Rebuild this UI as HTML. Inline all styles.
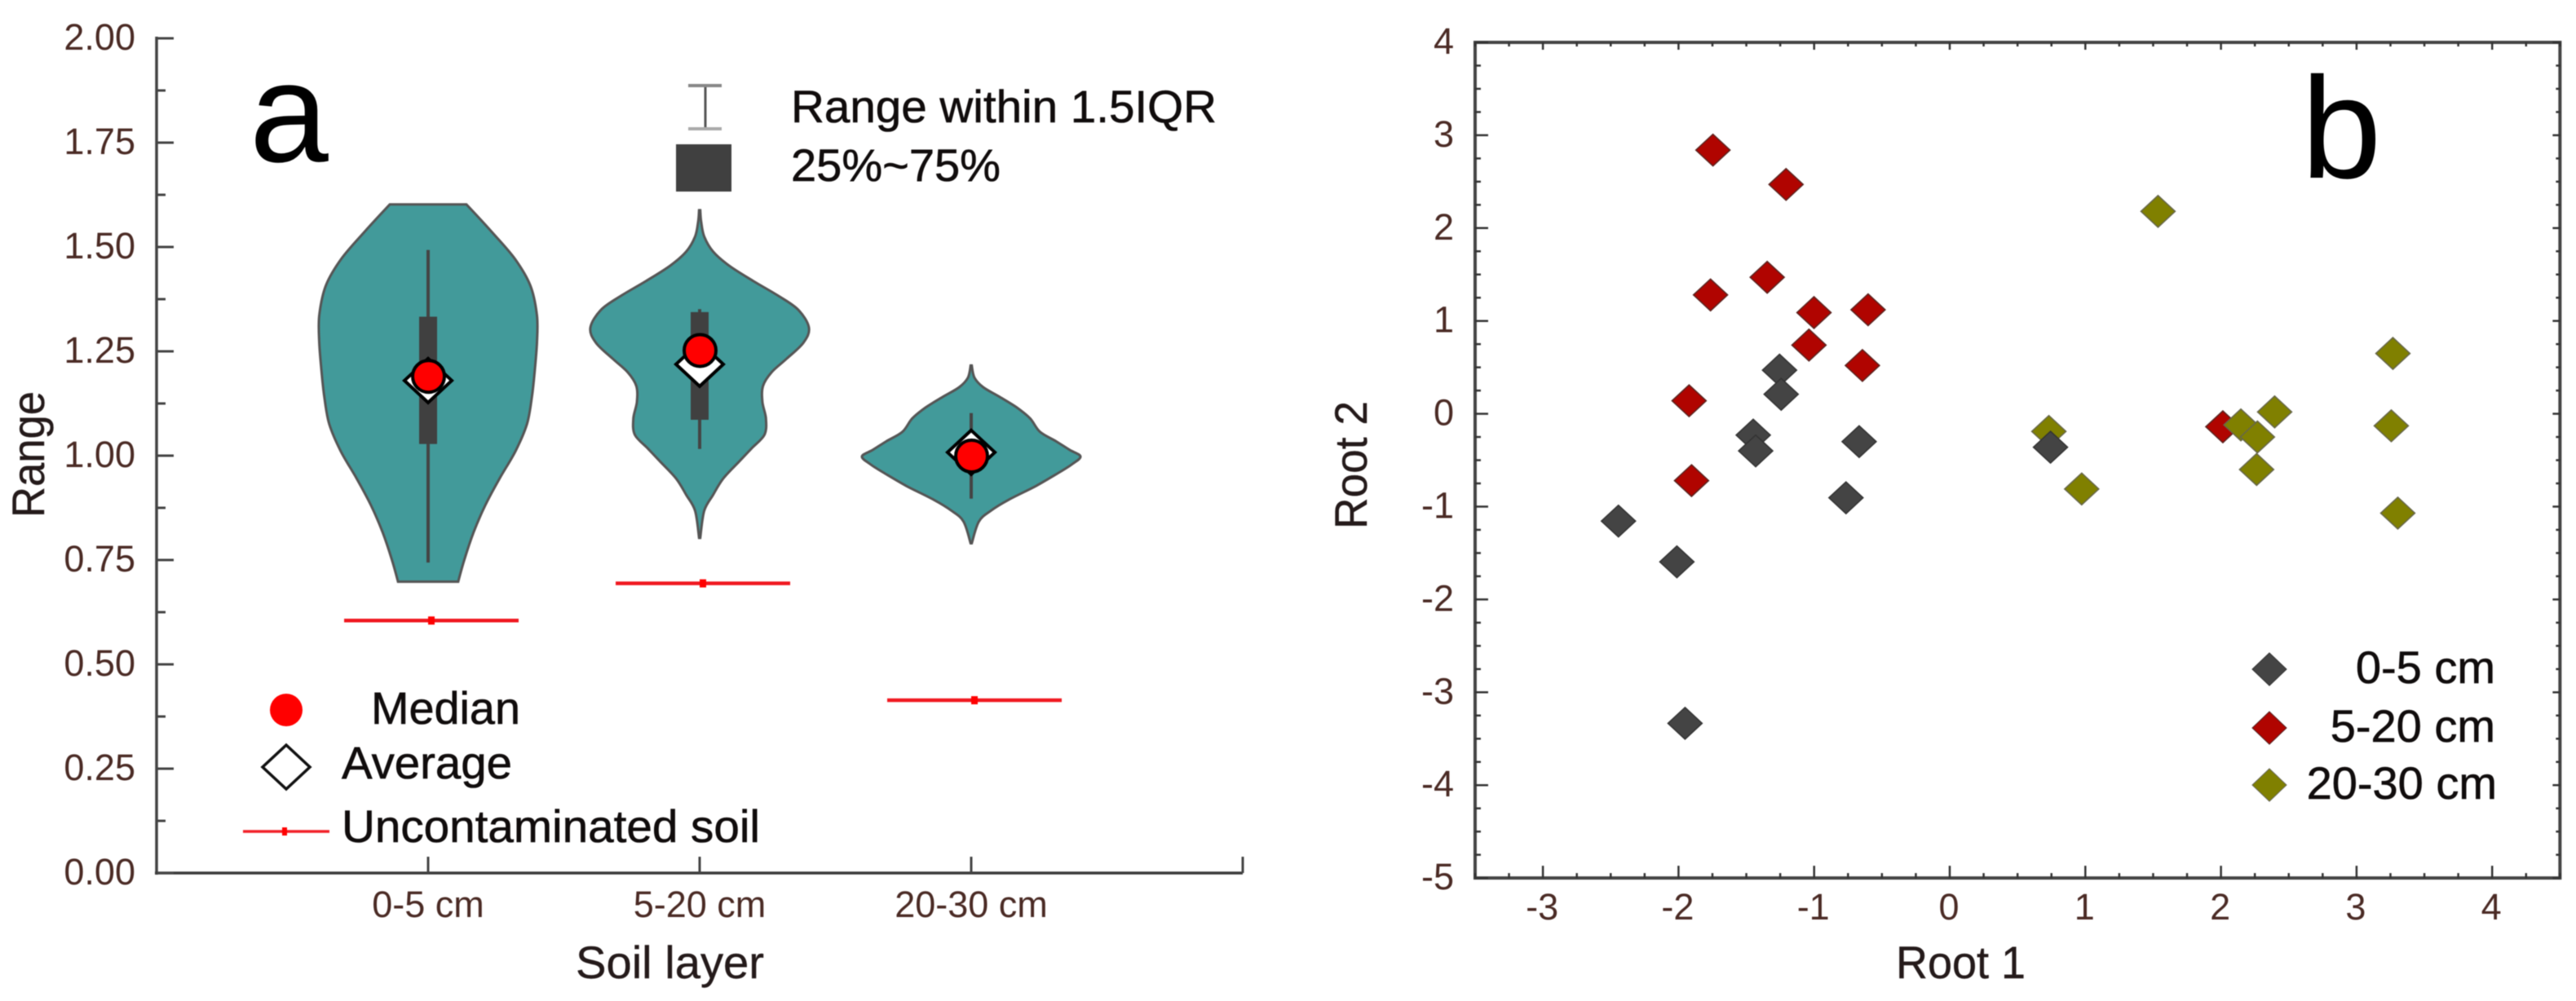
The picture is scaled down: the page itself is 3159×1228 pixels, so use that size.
<!DOCTYPE html>
<html lang="en">
<head>
<meta charset="utf-8">
<title>Soil layer range violin plot and discriminant scatter plot</title>
<style>
html,body{margin:0;padding:0;background:#fff;width:3159px;height:1228px;overflow:hidden}
svg{display:block;font-family:"Liberation Sans",Arial,sans-serif;filter:blur(0.5px)}
.tick{font-size:45px;fill:#4a2a24}
.lab{font-size:56px;fill:#241a1a;stroke:#241a1a;stroke-width:.4px}
.leg{font-size:56px;fill:#100c0c;stroke:#100c0c;stroke-width:.6px}
</style>
</head>
<body>
<svg id="figure" xmlns="http://www.w3.org/2000/svg" width="3159" height="1228" viewBox="0 0 3159 1228">
  <rect x="0" y="0" width="3159" height="1228" fill="#fff"/>
  <g id="panelA">
    <text x="306" y="198" font-size="174" fill="#000">a</text>
    <text class="lab" transform="translate(54,635) rotate(-90)" textLength="155" lengthAdjust="spacingAndGlyphs">Range</text>
    <text class="lab" x="706" y="1200" textLength="231" lengthAdjust="spacingAndGlyphs">Soil layer</text>
    <g>
      <line x1="865" y1="105" x2="865" y2="158" stroke="#555" stroke-width="3"/>
      <line x1="844" y1="105" x2="885" y2="105" stroke="#888" stroke-width="4"/>
      <line x1="844" y1="158" x2="885" y2="158" stroke="#aaa" stroke-width="4"/>
      <rect x="829" y="177" width="68" height="58" fill="#404040"/>
      <text class="leg" x="970" y="150" textLength="522" lengthAdjust="spacingAndGlyphs">Range within 1.5IQR</text>
      <text class="leg" x="970" y="222" textLength="257" lengthAdjust="spacingAndGlyphs">25%~75%</text>
    </g>
    <g>
      <circle cx="351" cy="871" r="20" fill="#f00"/>
      <text class="leg" x="455" y="888" textLength="183" lengthAdjust="spacingAndGlyphs">Median</text>
      <path d="M351 914 L380 941 L351 968 L322 941 Z" fill="#fff" stroke="#111" stroke-width="3.5"/>
      <text class="leg" x="419" y="955" textLength="209" lengthAdjust="spacingAndGlyphs">Average</text>
      <line x1="298" y1="1020" x2="404" y2="1020" stroke="#f2222a" stroke-width="3.5"/>
      <rect x="346" y="1015" width="6" height="10" fill="#f00"/>
      <text class="leg" x="419" y="1033" textLength="513" lengthAdjust="spacingAndGlyphs">Uncontaminated soil</text>
    </g>
  </g>
  <g id="panelB">
    <text x="2822" y="218" font-size="177" fill="#000">b</text>
    <text class="lab" transform="translate(1676,649) rotate(-90)" textLength="157" lengthAdjust="spacingAndGlyphs">Root 2</text>
    <text class="lab" x="2325" y="1200" textLength="159" lengthAdjust="spacingAndGlyphs">Root 1</text>
    <g>
      <path d="M2783 801 L2804 821 L2783 841 L2762 821 Z" fill="#444" stroke="#333" stroke-width="1"/>
      <text class="leg" x="3060" y="838" text-anchor="end">0-5 cm</text>
      <path d="M2783 873 L2804 893 L2783 913 L2762 893 Z" fill="#b00400" stroke="#522" stroke-width="1"/>
      <text class="leg" x="3060" y="910" text-anchor="end">5-20 cm</text>
      <path d="M2783 943 L2804 963 L2783 983 L2762 963 Z" fill="#808000" stroke="#665" stroke-width="1"/>
      <text class="leg" x="3062" y="980" text-anchor="end">20-30 cm</text>
    </g>
  </g>
</svg>
<script>
// ----- Panel a data -----
const categories = ['0-5 cm', '5-20 cm', '20-30 cm'];
const rangeTicks = ['0.00', '0.25', '0.50', '0.75', '1.00', '1.25', '1.50', '1.75', '2.00'];
const violin1Values = [1.602, 1.538, 1.473, 1.408, 1.336, 1.271, 1.206, 1.141, 1.076, 1.011, 0.946, 0.881, 0.816, 0.751, 0.698];
const violin1Density = [0.351, 0.576, 0.79, 0.935, 0.996, 0.996, 0.977, 0.95, 0.905, 0.80, 0.656, 0.523, 0.416, 0.332, 0.275];
const violin2Values = [1.588, 1.56, 1.525, 1.489, 1.454, 1.418, 1.384, 1.350, 1.307, 1.271, 1.232, 1.200, 1.167, 1.128, 1.089, 1.050, 1.017, 0.985, 0.945, 0.906, 0.868, 0.803];
const violin2Density = [0.005, 0.014, 0.042, 0.123, 0.277, 0.494, 0.714, 0.901, 1.00, 0.951, 0.795, 0.659, 0.58, 0.575, 0.607, 0.593, 0.474, 0.358, 0.215, 0.123, 0.042, 0.005];
const violin3Values = [1.216, 1.187, 1.164, 1.141, 1.115, 1.089, 1.057, 1.034, 1.014, 0.998, 0.979, 0.959, 0.927, 0.894, 0.868, 0.842, 0.790];
const violin3Density = [0.005, 0.03, 0.11, 0.26, 0.42, 0.54, 0.63, 0.78, 0.90, 1.00, 0.92, 0.80, 0.59, 0.34, 0.18, 0.07, 0.005];
const whiskerLow = [0.744, 1.016, 0.897];
const whiskerHigh = [1.493, 1.351, 1.102];
const boxLow = [1.028, 1.086, 0.998];
const boxHigh = [1.333, 1.344, 1.004];
const medians = [1.19, 1.252, 0.999];
const averages = [1.18, 1.219, 1.008];
const uncontaminated = [0.605, 0.694, 0.414];

// ----- Panel b data -----
const root1Ticks = ['-3', '-2', '-1', '0', '1', '2', '3', '4'];
const root2Ticks = ['-5', '-4', '-3', '-2', '-1', '0', '1', '2', '3', '4'];
const shallowRoot1 = [-2.443, -2.012, -1.952, -1.255, -1.243, -1.449, -1.431, -0.668, -0.765, 0.743];
const shallowRoot2 = [-1.156, -1.595, -3.334, 0.47, 0.21, -0.23, -0.40, -0.30, -0.905, -0.36];
const middleRoot1 = [-1.746, -1.207, -1.346, -1.764, -1.001, -0.602, -1.038, -0.644, -1.922, -1.904, 2.014];
const middleRoot2 = [2.84, 2.47, 1.47, 1.28, 1.09, 1.12, 0.74, 0.52, 0.14, -0.72, -0.14];
const deepRoot1 = [1.536, 0.731, 0.973, 2.147, 2.269, 2.263, 2.396, 3.268, 3.256, 3.304];
const deepRoot2 = [2.18, -0.19, -0.81, -0.12, -0.25, -0.60, 0.02, 0.65, -0.13, -1.07];

// ----- Scales -----
const xA = i => 525 + i * 333;
const yA = v => 1071 - v * 512;
const xB = v => 2391 + v * 166.3;
const yB = v => 507.6 - v * 113.9;
const violinHalfWidth = 134;

const NS = 'http://www.w3.org/2000/svg';
const panelA = document.getElementById('panelA');
const panelB = document.getElementById('panelB');
function mk(parent, tag, attrs, before) {
  const el = document.createElementNS(NS, tag);
  for (const k in attrs) el.setAttribute(k, attrs[k]);
  if (before) parent.insertBefore(el, before); else parent.appendChild(el);
  return el;
}
function line(parent, x1, y1, x2, y2, color, w) {
  return mk(parent, 'line', { x1: x1, y1: y1, x2: x2, y2: y2, stroke: color, 'stroke-width': w });
}
function smooth(pts) {
  let d = '';
  for (let i = 0; i < pts.length - 1; i++) {
    const p0 = pts[Math.max(i - 1, 0)], p1 = pts[i], p2 = pts[i + 1], p3 = pts[Math.min(i + 2, pts.length - 1)];
    const c1x = p1[0] + (p2[0] - p0[0]) / 6, c1y = p1[1] + (p2[1] - p0[1]) / 6;
    const c2x = p2[0] - (p3[0] - p1[0]) / 6, c2y = p2[1] - (p3[1] - p1[1]) / 6;
    d += ' C' + c1x.toFixed(1) + ' ' + c1y.toFixed(1) + ' ' + c2x.toFixed(1) + ' ' + c2y.toFixed(1) + ' ' + p2[0].toFixed(1) + ' ' + p2[1].toFixed(1);
  }
  return d;
}
function violinPath(i, values, density) {
  const cx = xA(i);
  const right = values.map((v, k) => [cx + density[k] * violinHalfWidth, yA(v)]);
  const left = values.map((v, k) => [cx - density[k] * violinHalfWidth, yA(v)]).reverse();
  return 'M' + right[0][0].toFixed(1) + ' ' + right[0][1].toFixed(1) + smooth(right) +
    ' L' + left[0][0].toFixed(1) + ' ' + left[0][1].toFixed(1) + smooth(left) + ' Z';
}

// ----- Panel a axes -----
const axesA = mk(panelA, 'g', {});


const yAxisA = line(axesA, 192, yA(2) - 2, 192, yA(0) + 2, '#444', 3.5);


const xAxisA = line(axesA, 190, yA(0), xA(3), yA(0), '#3a3a3a', 3.5);


rangeTicks.forEach(function (label, k) {
  const v = parseFloat(label);
  const t = line(axesA, 192, yA(v), 213, yA(v), '#444', 3);
  
  
  const txt = mk(axesA, 'text', { x: 166, y: yA(v) + 14, 'text-anchor': 'end', class: 'tick' });
  txt.textContent = label;
  
  
  if (k < rangeTicks.length - 1) {
    const m = line(axesA, 192, yA(v + 0.125), 203, yA(v + 0.125), '#444', 3);
    
    
  }
});
[0, 1, 2, 3].forEach(function (i) {
  const t = line(axesA, xA(i), yA(0), xA(i), yA(0) - 20, '#444', 3);
  
  
});
categories.forEach(function (c, i) {
  const txt = mk(axesA, 'text', { x: xA(i), y: 1125, 'text-anchor': 'middle', class: 'tick' });
  txt.textContent = c;
  
  
});

// ----- Panel a marks -----
const violinValues = [violin1Values, violin2Values, violin3Values];
const violinDensity = [violin1Density, violin2Density, violin3Density];
categories.forEach(function (c, i) {
  const cx = xA(i);
  const group = mk(panelA, 'g', {});
  
  

  const body = mk(group, 'path', { d: violinPath(i, violinValues[i], violinDensity[i]), fill: '#429a9a', stroke: '#555', 'stroke-width': 3 });
  
  

  const whisk = line(group, cx, yA(whiskerLow[i]), cx, yA(whiskerHigh[i]), '#444', 4);
  
  

  const box = mk(group, 'rect', { x: cx - 11, y: yA(boxHigh[i]), width: 22, height: yA(boxLow[i]) - yA(boxHigh[i]), fill: '#404040' });
  
  

  const ay = yA(averages[i]);
  const avg = mk(group, 'path', { d: 'M' + cx + ' ' + (ay - 27) + ' L' + (cx + 29) + ' ' + ay + ' L' + cx + ' ' + (ay + 27) + ' L' + (cx - 29) + ' ' + ay + ' Z', fill: '#fff', stroke: '#000', 'stroke-width': 4 });
  
  

  const med = mk(group, 'circle', { cx: cx + 0.5, cy: yA(medians[i]), r: 19.5, fill: '#f00', stroke: '#000', 'stroke-width': 4 });
  
  

  const ly = yA(uncontaminated[i]);
  const ref = line(group, cx - 103, ly, cx + 111, ly, '#f01820', 4.5);
  
  
  const refDot = mk(group, 'rect', { x: cx, y: ly - 5, width: 8, height: 10, fill: '#f00' });
  
  
});

// ----- Panel b axes -----
const axesB = mk(panelB, 'g', {});


const frameB = mk(axesB, 'rect', { x: xB(-3.5), y: yB(4), width: xB(4.5) - xB(-3.5), height: yB(-5) - yB(4), fill: 'none', stroke: '#444', 'stroke-width': 4 });


root2Ticks.forEach(function (label, k) {
  const v = parseFloat(label);
  const t = line(axesB, xB(-3.5), yB(v), xB(-3.5) + 16, yB(v), '#333', 2.5);
  
  
  const tr = line(axesB, xB(4.5), yB(v), xB(4.5) - 9, yB(v), '#333', 2.5);
  
  
  const txt = mk(axesB, 'text', { x: 1783, y: yB(v) + 14, 'text-anchor': 'end', class: 'tick' });
  txt.textContent = label;
  
  
  if (k < root2Ticks.length - 1) {
    [0.25, 0.5, 0.75].forEach(function (f) {
      const m = line(axesB, xB(-3.5), yB(v + f), xB(-3.5) + 7, yB(v + f), '#333', 2.5);
      
      
      const mr = line(axesB, xB(4.5), yB(v + f), xB(4.5) - 5, yB(v + f), '#333', 2.5);
      
      
    });
  }
});
root1Ticks.forEach(function (label) {
  const v = parseFloat(label);
  const t = line(axesB, xB(v), yB(-5), xB(v), yB(-5) - 15, '#333', 2.5);
  
  
  const tt = line(axesB, xB(v), yB(4), xB(v), yB(4) + 9, '#333', 2.5);
  
  
  const txt = mk(axesB, 'text', { x: xB(v) - 1, y: 1128, 'text-anchor': 'middle', class: 'tick' });
  txt.textContent = label;
  
  
});
for (let q = -14; q <= 18; q++) {
  if (q % 4 === 0) continue;
  const v = q / 4;
  const m = line(axesB, xB(v), yB(-5), xB(v), yB(-5) - 6, '#333', 2.5);
  
  
  const mt = line(axesB, xB(v), yB(4), xB(v), yB(4) + 5, '#333', 2.5);
  
  
}

// ----- Panel b marks (red first, olive next, dark grey on top) -----
function drawSeries(xs, ys, fill, stroke, name) {
  const g = mk(panelB, 'g', {});
  
  
  xs.forEach(function (xv, k) {
    const px = xB(xv), py = yB(ys[k]);
    const p = mk(g, 'path', { d: 'M' + px + ' ' + (py - 19.5) + ' L' + (px + 21) + ' ' + py + ' L' + px + ' ' + (py + 19.5) + ' L' + (px - 21) + ' ' + py + ' Z', fill: fill, stroke: stroke, 'stroke-width': 1.5 });
    
    
  });
}
drawSeries(middleRoot1, middleRoot2, '#b00400', '#5a2420', 'series-5-20-cm');
drawSeries(deepRoot1, deepRoot2, '#808000', '#66664a', 'series-20-30-cm');
drawSeries(shallowRoot1, shallowRoot2, '#444444', '#333333', 'series-0-5-cm');
</script>
</body>
</html>
